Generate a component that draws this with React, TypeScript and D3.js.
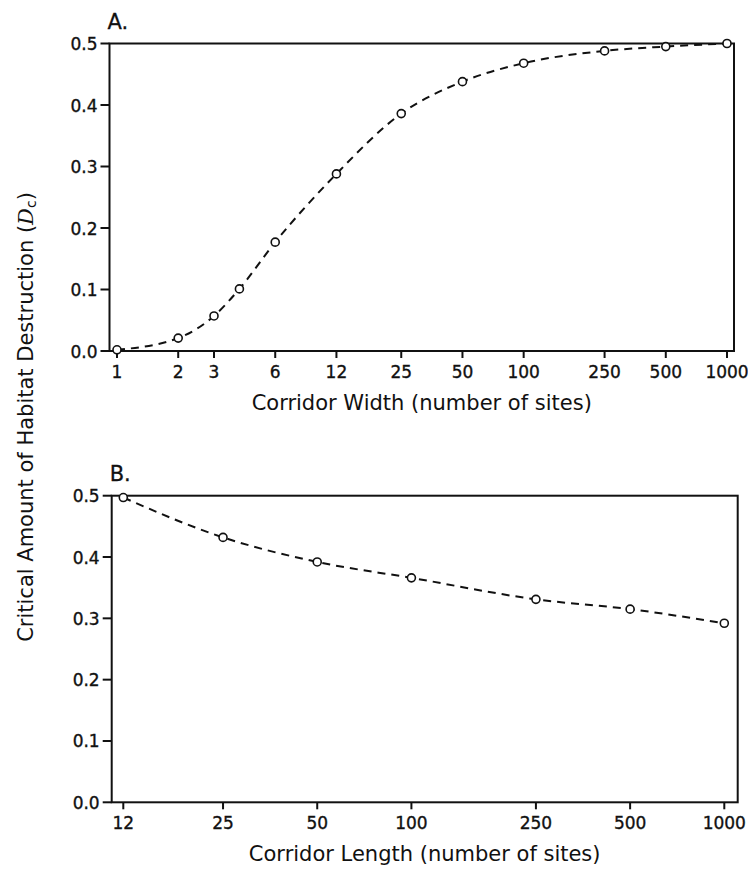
import React from 'react';
import * as d3 from 'd3';

// panel A: corridor width
const widthSites = [1, 2, 3, 4, 6, 12, 25, 50, 100, 250, 500, 1000];
const widthDc = [0.002, 0.021, 0.057, 0.101, 0.177, 0.288, 0.386, 0.438, 0.468, 0.488, 0.495, 0.5];
const widthTicks = [1, 2, 3, 6, 12, 25, 50, 100, 250, 500, 1000];

// panel B: corridor length
const lengthSites = [12, 25, 50, 100, 250, 500, 1000];
const lengthDc = [0.497, 0.432, 0.392, 0.366, 0.331, 0.315, 0.292];
const lengthTicks = [12, 25, 50, 100, 250, 500, 1000];

const dcTicks = [0, 0.1, 0.2, 0.3, 0.4, 0.5];

const FONT = '"DejaVu Sans", sans-serif';

type PanelProps = {
    label: string,
    title: string,
    sites: number[],
    dc: number[],
    ticks: number[],
    frame: { left: number, right: number, top: number, bottom: number },
    xRange: [number, number],
};

const Panel = ({ label, title, sites, dc, ticks, frame, xRange }: PanelProps) => {
    const xScale = d3.scaleLog().domain([d3.min(sites), d3.max(sites)]).range(xRange);
    const yScale = d3.scaleLinear().domain([0, 0.5]).range([frame.bottom, frame.top]);
    const points = sites.map((s, i) => ({ s, v: dc[i] }));
    const line = d3.line<{ s: number, v: number }>()
        .x(d => xScale(d.s))
        .y(d => yScale(d.v))
        .curve(d3.curveMonotoneX);
    const fmt = d3.format('.1f');
    const midX = (frame.left + frame.right) / 2;

    return (
        <g fontFamily={FONT} fill="#111">
            <text x={frame.left - 2} y={frame.top - 15} fontSize={21} stroke="#111" strokeWidth={0.3}>{label}</text>
            {/* frame */}
            <rect x={frame.left} y={frame.top} width={frame.right - frame.left} height={frame.bottom - frame.top}
                fill="none" stroke="#111" strokeWidth={2} />
            {/* y axis */}
            {dcTicks.map(t => (
                <g key={t} transform={`translate(${frame.left},${yScale(t)})`}>
                    <line x1={-9} x2={0} stroke="#111" strokeWidth={2} />
                    <text x={-12} dy={6.5} textAnchor="end" fontSize={17} stroke="#111" strokeWidth={0.35}>{fmt(t)}</text>
                </g>
            ))}
            {/* x axis */}
            {ticks.map(t => (
                <g key={t} transform={`translate(${xScale(t)},${frame.bottom})`}>
                    <line y1={0} y2={7} stroke="#111" strokeWidth={2} />
                    <text y={27} textAnchor="middle" fontSize={17} stroke="#111" strokeWidth={0.35}>{t}</text>
                </g>
            ))}
            <text x={midX} y={frame.bottom + 59} textAnchor="middle" fontSize={21}>{title}</text>
            <path d={line(points) || ''} fill="none" stroke="#111" strokeWidth={2} strokeDasharray="8,6" />
            {points.map(d => (
                <circle key={d.s} cx={xScale(d.s)} cy={yScale(d.v)} r={4}
                    fill="#fff" stroke="#111" strokeWidth={1.6} />
            ))}
        </g>
    );
};

const App = () => {
    return (
        <svg width={748} height={869} style={{ position: 'absolute', left: 0, top: 0, background: '#fff' }}>
            <rect width={748} height={869} fill="#fff" />
            <Panel label="A." title="Corridor Width (number of sites)"
                sites={widthSites} dc={widthDc} ticks={widthTicks}
                frame={{ left: 109.5, right: 734, top: 43.5, bottom: 351 }}
                xRange={[117, 727]} />
            <Panel label="B." title="Corridor Length (number of sites)"
                sites={lengthSites} dc={lengthDc} ticks={lengthTicks}
                frame={{ left: 111.7, right: 737.7, top: 495.7, bottom: 802.3 }}
                xRange={[123.3, 724.3]} />
            <text transform="translate(33,417) rotate(-90)" textAnchor="middle"
                fontFamily={FONT} fontSize={21} fill="#111">
                Critical Amount of Habitat Destruction (
                <tspan fontFamily='"DejaVu Serif", serif' fontStyle="italic">D</tspan>
                <tspan fontSize={14} dy={3}>c</tspan>
                <tspan dy={-3}>)</tspan>
            </text>
        </svg>
    );
};

export default App;
